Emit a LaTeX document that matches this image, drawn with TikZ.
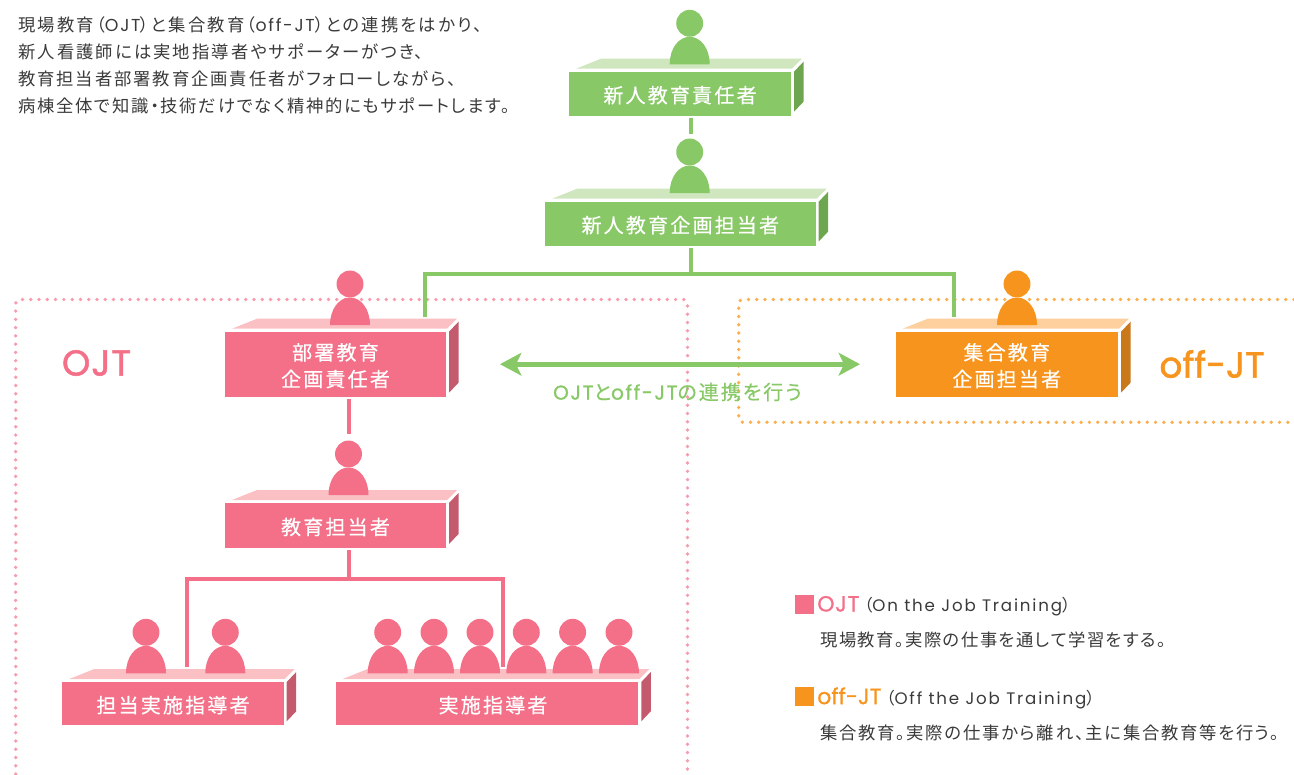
\documentclass[tikz,border=0pt]{standalone}
\usepackage{fontspec}
\usetikzlibrary{arrows.meta,calc}
\newfontfamily\cjk{Noto Sans CJK JP}[RawFeature={+palt}]
\newfontfamily\latf{Poppins}
\definecolor{gmain}{HTML}{88C866}\definecolor{gtop}{HTML}{D0E6BE}\definecolor{gside}{HTML}{6EA650}
\definecolor{pmain}{HTML}{F37088}\definecolor{ptop}{HTML}{FAC0C4}\definecolor{pside}{HTML}{C45A6E}
\definecolor{omain}{HTML}{F7941D}\definecolor{otop}{HTML}{FDD09E}\definecolor{oside}{HTML}{C9781A}
\definecolor{pdot}{HTML}{F99BAB}\definecolor{odot}{HTML}{FBB04F}\definecolor{ink}{HTML}{3A3A3A}
\newcommand{\lw}[2][6]{{\latf\addfontfeature{LetterSpace=#1}#2}}
\newcommand{\lb}[1]{{\latf\addfontfeature{LetterSpace=8,FakeBold=1.2}#1}}
\newcommand{\lgh}[3]{{\color{#1}\fontsize{16.5pt}{16.5pt}\selectfont\latf\addfontfeature{FakeBold=1,LetterSpace=#2}#3}}
\newcommand{\tx}[3]{\fontsize{#1pt}{#1pt}\selectfont\cjk\addfontfeature{LetterSpace=#2}#3}
\newcommand{\txb}[3]{\fontsize{#1pt}{#1pt}\selectfont\cjk\addfontfeature{LetterSpace=#2,FakeBold=0.5}#3}
\newcommand{\desk}[9]{%
  \fill[#7] ({#2+7},{#3-3}) -- ({#2+32},{#3-13}) -- ({#4+11},{#3-13}) -- ({#4+1},{#3-3}) -- cycle;
  \fill[#8] ({#4+3},{#3}) -- ({#4+12.5},{#3-10}) -- ({#4+12.5},{#5-14}) -- ({#4+3},{#5-4}) -- cycle;
  \node[frontbox,fill=#6,minimum width={(#4-#2)*0.75pt},minimum height={(#5-#3)*0.75pt}] (#1) at ({(#2+#4)/2},{(#3+#5)/2}) {};
  \node[boxlabel] (#1t) at ($(#1.center)+(0,1.5)$) {#9};}
\newcommand{\person}[4]{%
  \fill[#4] ({#2-20},{#3+41}) .. controls ({#2-20},{#3+25}) and ({#2-11},{#3+13.5}) .. ({#2},{#3+13.5})
     .. controls ({#2+11},{#3+13.5}) and ({#2+20},{#3+25}) .. ({#2+20},{#3+41}) -- cycle;
  \node[head,fill=#4] (#1) at (#2,#3) {};}
\tikzset{
  frontbox/.style={inner sep=0pt,outer sep=0pt,draw=none},
  boxlabel/.style={text=white,inner sep=0pt,align=center,font=\txb{15}{11}{}},
  head/.style={circle,inner sep=0pt,outer sep=0pt,minimum size=20.2pt,draw=none},
  gline/.style={draw=gmain,line width=3pt},
  pline/.style={draw=pmain,line width=3pt},
  dotline/.style={line width=2.8pt,line cap=round,dash pattern=on 0pt off 6.2pt,rounded corners=3pt},
  bodytext/.style={anchor=west,inner sep=0pt,text=ink},
  bigtag/.style={anchor=center,inner sep=0pt},
}
\begin{document}
\begin{tikzpicture}[x=0.75pt,y=-0.75pt]
\useasboundingbox (0,0) rectangle (1294,774);
% dotted areas
\draw[dotline,pdot] (15.7,774) -- (15.7,299.5) -- (687.5,299.5) -- (687.5,774);
\draw[dotline,odot] (1294,299.5) -- (738.7,299.5) -- (738.7,422.3) -- (1294,422.3);
% free ends
\coordinate (j1) at (690.7,273.5);
\coordinate (c3) at (425,316.7);
\coordinate (c4) at (954,316.7);
\coordinate (j2) at (349,579.3);
\coordinate (c6) at (187.3,666.7);
\coordinate (c7) at (503.3,667);
% desks
\desk{b1}{569}{71.7}{791}{115.7}{gmain}{gtop}{gside}{新人教育責任者}
\desk{b2}{545}{201.7}{815.7}{245.5}{gmain}{gtop}{gside}{新人教育企画担当者}
\desk{b3}{225}{331.7}{446}{396.7}{pmain}{ptop}{pside}{部署教育\\[5pt]企画責任者}
\desk{b4}{895.6}{331.7}{1118}{396.7}{omain}{otop}{oside}{集合教育\\[5pt]企画担当者}
\desk{b5}{225}{503}{446}{548}{pmain}{ptop}{pside}{教育担当者}
\desk{b6}{62.3}{682}{283.7}{725.3}{pmain}{ptop}{pside}{担当実施指導者}
\desk{b7}{335.7}{682}{638.3}{725.3}{pmain}{ptop}{pside}{\hspace{9pt}実施指導者}
% persons
\person{p1}{689.7}{23.3}{gmain}
\person{p2}{689.7}{152}{gmain}
\person{p3}{350}{284}{pmain}
\person{p4}{1017}{284}{omain}
\person{p5}{348.5}{454}{pmain}
\person{p6a}{146}{632.3}{pmain}
\person{p6b}{225.3}{632.3}{pmain}
\person{p7a}{387.7}{632.3}{pmain}
\person{p7b}{434}{632.3}{pmain}
\person{p7c}{480}{632.3}{pmain}
\person{p7d}{526.3}{632.3}{pmain}
\person{p7e}{572.6}{632.3}{pmain}
\person{p7f}{619}{632.3}{pmain}
% connectors
\draw[gline] ($(j1|-b1.south)+(0,2.3)$) -- ($(p2.north-|j1)+(0,-4.5)$);
\draw[gline] ($(j1|-b2.south)+(0,2)$) -- (j1);
\draw[gline] (c3) |- (c4 |- j1) -- (c4);
\draw[pline] ($(p5|-b3.south)+(0.5,2.6)$) -- ($(p5.north)+(0.5,-6.5)$);
\draw[pline] ($(j2|-b5.south)+(0,2)$) -- (j2);
\draw[pline] (c6) |- (c7 |- j2) -- (c7);
\draw[draw=gmain,line width=3.75pt,shorten <=40.5pt,shorten >=26.7pt,{Stealth[length=16pt,width=17pt,inset=4pt]}-{Stealth[length=16pt,width=17pt,inset=4pt]}] (b3.east) -- (b4.west);
% texts
\node[bodytext,font=\tx{13}{12.5}{}] (t1) at (18,25) {現場教育（\lw[10]{OJT}）と集合教育（\lw[10]{off-JT}）との連携をはかり、};
\node[bodytext,font=\tx{13}{12}{}] (t2) at (18,52) {新人看護師には実地指導者やサポーターがつき、};
\node[bodytext,font=\tx{13}{11}{}] (t3) at (18,79) {教育担当者部署教育企画責任者がフォローしながら、};
\node[bodytext,font=\tx{13}{10}{}] (t4) at (18,106) {病棟全体で知識・技術だけでなく精神的にもサポートします。};
\node[bigtag,text=pmain,font=\fontsize{27}{27}\selectfont\latf\addfontfeature{FakeBold=1.5,LetterSpace=3}] (ojt) at (96.5,363) {OJT};
\node[bigtag,text=omain,font=\fontsize{27}{27}\selectfont\latf\addfontfeature{FakeBold=1.5}] (off) at (1212,364) {off-JT};
\node[bigtag,text=gmain,font=\txb{15}{10}{}] (cap) at (677.5,392) {\lb{OJT}と\lb{off-JT}の連携を行う};
% legend
\node[fill=pmain,inner sep=0pt,minimum size=14.2pt] (lg1) at (804.5,604.5) {};
\node[fill=omain,inner sep=0pt,minimum size=14.2pt] (lg2) at (804.5,696.7) {};
\node[bodytext,font=\tx{12.5}{6}{}] (l1b) at (817,606) {\lgh{pmain}{3}{OJT}\hspace{3.5pt}（\lw[11]{On the Job Training}）};
\node[bodytext,font=\tx{13}{8.5}{}] (l1c) at (820,640) {現場教育。実際の仕事を通して学習をする。};
\node[bodytext,font=\tx{12.5}{6}{}] (l2b) at (817,698) {\lgh{omain}{0}{off-JT}\hspace{3.5pt}（\lw[11]{Off the Job Training}）};
\node[bodytext,font=\tx{13}{10}{}] (l2c) at (820,733) {集合教育。実際の仕事から離れ、主に集合教育等を行う。};
\end{tikzpicture}
\end{document}
